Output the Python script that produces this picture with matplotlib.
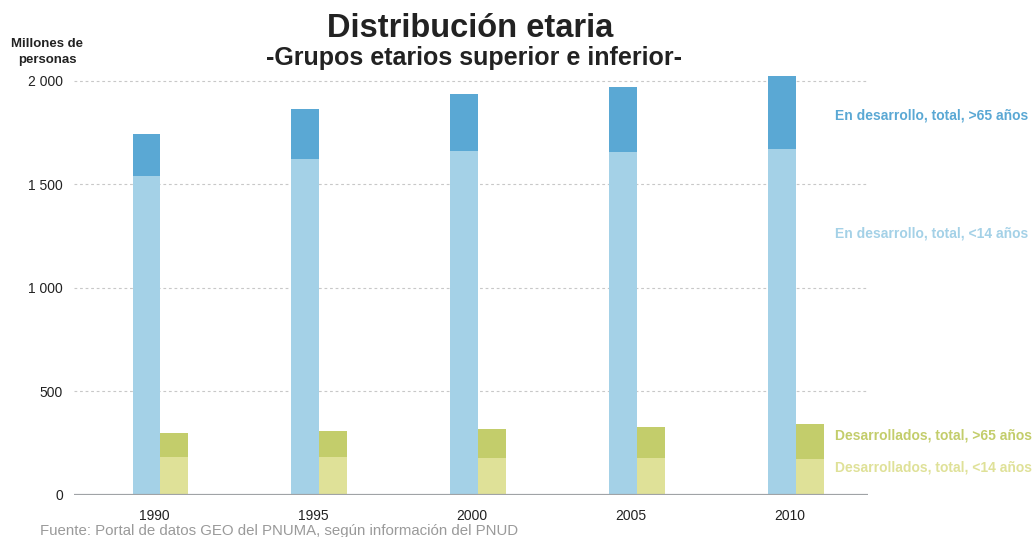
import matplotlib
matplotlib.use("Agg")
import matplotlib.pyplot as plt
import numpy as np

plt.rcParams['font.family'] = ['Liberation Sans', 'DejaVu Sans']

years = [1990, 1995, 2000, 2005, 2010]
dev_u14 = [1541, 1623, 1662, 1657, 1672]      # En desarrollo, <14
dev_o65 = [203, 242, 275, 314, 352]           # En desarrollo, >65
ind_u14 = [184, 184, 179, 179, 174]           # Desarrollados, <14
ind_o65 = [116, 125, 140, 150, 169]           # Desarrollados, >65
yticks = [0, 500, 1000, 1500, 2000]
ytick_labels = ["0", "500", "1 000", "1 500", "2 000"]

c_dev_u14 = "#a4d1e7"
c_dev_o65 = "#5aa8d4"
c_ind_u14 = "#dfe198"
c_ind_o65 = "#c3cd6b"

W, H = 1034, 537
fig = plt.figure(figsize=(W / 100, H / 100), dpi=100)
ax = fig.add_axes([74 / W, (H - 495) / H, (868 - 74) / W, 425 / H])

x = np.array(years, dtype=float)
off = 0.2
bw = 0.88
ax.bar(x + off - bw, dev_u14, width=bw, align='edge', color=c_dev_u14, zorder=2, linewidth=0)
ax.bar(x + off - bw, dev_o65, width=bw, bottom=dev_u14, align='edge', color=c_dev_o65, zorder=2, linewidth=0)
ax.bar(x + off, ind_u14, width=bw, align='edge', color=c_ind_u14, zorder=2, linewidth=0)
ax.bar(x + off, ind_o65, width=bw, bottom=ind_u14, align='edge', color=c_ind_o65, zorder=2, linewidth=0)

ax.set_xlim(1987.48, 2012.45)
ax.set_ylim(0, 2053)
ax.set_xticks(years)
ax.set_xticklabels([str(y) for y in years])
ax.set_yticks(yticks)
ax.set_yticklabels(ytick_labels)
ax.tick_params(axis='both', length=0, labelsize=10, colors='#222222')
ax.tick_params(axis='x', pad=10)
ax.tick_params(axis='y', pad=8)

for v in yticks[1:]:
    ax.axhline(v, color='#c8c8c8', lw=0.8, ls=(0, (2.5, 2.5)), zorder=1)
ax.axhline(0, color='#a0a3a6', lw=2.3, zorder=3)

for s in ax.spines.values():
    s.set_visible(False)

fig.text(470 / W, 1 - 37 / H, "Distribución etaria", ha='center', va='baseline',
         fontsize=23.5, fontweight='bold', color='#222222')
fig.text(474 / W, 1 - 65 / H, "-Grupos etarios superior e inferior-", ha='center', va='baseline',
         fontsize=18, fontweight='bold', color='#222222')
fig.text(47 / W, 1 - 52 / H, "Millones de\npersonas", ha='center', va='center',
         fontsize=9.5, fontweight='bold', color='#222222', linespacing=1.35)

labels = [("En desarrollo, total, >65 años", 115, c_dev_o65),
          ("En desarrollo, total, <14 años", 234, c_dev_u14),
          ("Desarrollados, total, >65 años", 436, c_ind_o65),
          ("Desarrollados, total, <14 años", 467, c_ind_u14)]
for txt, yp, col in labels:
    fig.text(835 / W, 1 - yp / H, txt, ha='left', va='center', fontsize=10,
             fontweight='bold', color=col)

fig.text(40 / W, 1 - 531 / H, "Fuente: Portal de datos GEO del PNUMA, según información del PNUD",
         ha='left', va='center', fontsize=10.8, color='#9a9a9a')

fig.savefig("out.png", dpi=100)
